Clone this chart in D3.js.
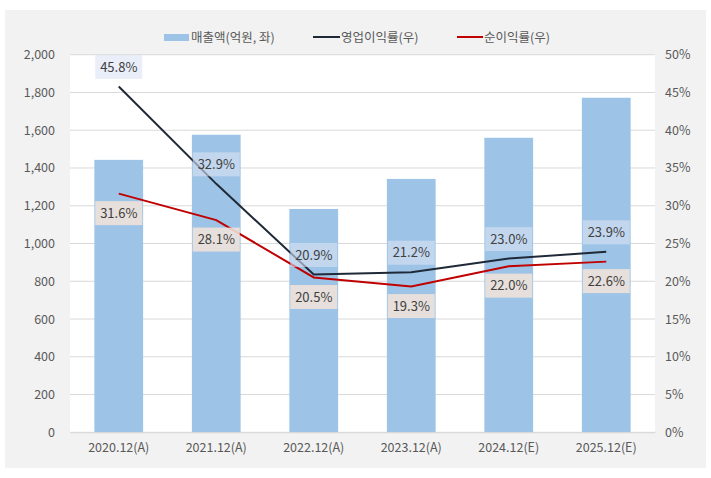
<!DOCTYPE html>
<html>
<head>
<meta charset="utf-8">
<script src="https://cdn.jsdelivr.net/npm/d3@7"></script>
<style>
  html, body { margin: 0; padding: 0; background: #ffffff; }
  svg { display: block; font-family: "Noto Sans CJK KR", "Noto Sans", sans-serif; }
</style>
</head>
<body>
<svg id="chart" width="711" height="478"></svg>
<script>
const categories = ["2020.12(A)", "2021.12(A)", "2022.12(A)", "2023.12(A)", "2024.12(E)", "2025.12(E)"];
const revenue = [1443, 1576, 1183, 1342, 1560, 1772];
const opMargin = [45.8, 32.9, 20.9, 21.2, 23.0, 23.9];
const netMargin = [31.6, 28.1, 20.5, 19.3, 22.0, 22.6];
const leftTicks = [0, 200, 400, 600, 800, 1000, 1200, 1400, 1600, 1800, 2000];
const rightTicks = [0, 5, 10, 15, 20, 25, 30, 35, 40, 45, 50];
const legendLabels = ["매출액(억원, 좌)", "영업이익률(우)", "순이익률(우)"];

const svg = d3.select("#chart");
const W = 711, H = 478;
const plot = { left: 70, right: 655, top: 54.7, bottom: 432.3 };

// outer gray background
svg.append("rect").attr("x", 5).attr("y", 10).attr("width", 701).attr("height", 458).attr("fill", "#f2f2f2");
// plot area
svg.append("rect").attr("x", plot.left).attr("y", plot.top).attr("width", plot.right - plot.left)
  .attr("height", plot.bottom - plot.top).attr("fill", "#ffffff");

const x = d3.scaleBand().domain(categories).range([plot.left, plot.right]).paddingInner(0.5).paddingOuter(0.25);
const yL = d3.scaleLinear().domain([0, 2000]).range([plot.bottom, plot.top]);
const yR = d3.scaleLinear().domain([0, 50]).range([plot.bottom, plot.top]);

// gridlines
svg.append("g").selectAll("line").data(leftTicks).join("line")
  .attr("x1", plot.left).attr("x2", plot.right)
  .attr("y1", d => yL(d)).attr("y2", d => yL(d))
  .attr("stroke", "#d9d9d9").attr("stroke-width", 1);

// left axis
const axL = svg.append("g").attr("transform", `translate(${plot.left - 15},0)`)
  .call(d3.axisLeft(yL).tickValues(leftTicks).tickFormat(d3.format(",")).tickSize(0).tickPadding(0));
axL.select(".domain").remove();
axL.selectAll("text").attr("fill", "#595959").attr("font-size", 12.5).attr("font-family", "Noto Sans CJK KR");

// right axis
const axR = svg.append("g").attr("transform", `translate(${plot.right + 10},0)`)
  .call(d3.axisRight(yR).tickValues(rightTicks).tickFormat(d => d + "%").tickSize(0).tickPadding(0));
axR.select(".domain").remove();
axR.selectAll("text").attr("fill", "#595959").attr("font-size", 12.5).attr("font-family", "Noto Sans CJK KR");

// bars
svg.append("g").selectAll("rect").data(revenue).join("rect")
  .attr("x", (d, i) => x(categories[i]))
  .attr("width", x.bandwidth())
  .attr("y", d => yL(d))
  .attr("height", d => yL(0) - yL(d))
  .attr("fill", "#9dc3e6");

// x axis
const axB = svg.append("g").attr("transform", `translate(0,${plot.bottom})`)
  .call(d3.axisBottom(x).tickSize(0).tickPadding(11));
axB.select(".domain").attr("stroke", "#d9d9d9");
axB.selectAll("text").attr("fill", "#595959").attr("font-size", 12.5).attr("font-family", "Noto Sans CJK KR");

// lines
const cx = (i) => x(categories[i]) + x.bandwidth() / 2;
const line = d3.line().x((d, i) => cx(i)).y(d => yR(d));
svg.append("path").datum(opMargin).attr("d", line).attr("fill", "none")
  .attr("stroke", "#1f2937").attr("stroke-width", 2);
svg.append("path").datum(netMargin).attr("d", line).attr("fill", "none")
  .attr("stroke", "#c00000").attr("stroke-width", 2);

// data labels
function labels(data, dy, fill, op) {
  const g = svg.append("g").selectAll("g").data(data).join("g")
    .attr("transform", (d, i) => `translate(${cx(i)},${yR(d) + dy})`);
  g.append("rect").attr("x", -23.5).attr("y", -12).attr("width", 47).attr("height", 24)
    .attr("fill", fill).attr("fill-opacity", op);
  g.append("text").attr("text-anchor", "middle").attr("dy", "0.36em")
    .attr("font-size", 13).attr("fill", "#404040")
    .text(d => d.toFixed(1) + "%");
}
labels(opMargin, -19.5, "#dae3f3", 0.6);
labels(netMargin, 19.5, "#f0e2da", 0.88);

// legend
const lg = svg.append("g").attr("font-size", 12.5).attr("fill", "#595959");
lg.append("rect").attr("x", 164).attr("y", 34).attr("width", 25).attr("height", 7).attr("fill", "#9dc3e6");
lg.append("text").attr("x", 191).attr("y", 37.5).attr("dy", "0.35em").attr("fill", "#595959").text(legendLabels[0]);
lg.append("line").attr("x1", 313).attr("x2", 340).attr("y1", 37).attr("y2", 37).attr("stroke", "#1f2937").attr("stroke-width", 2);
lg.append("text").attr("x", 341).attr("y", 37.5).attr("dy", "0.35em").attr("fill", "#595959").text(legendLabels[1]);
lg.append("line").attr("x1", 457).attr("x2", 483).attr("y1", 37).attr("y2", 37).attr("stroke", "#c00000").attr("stroke-width", 2);
lg.append("text").attr("x", 484).attr("y", 37.5).attr("dy", "0.35em").attr("fill", "#595959").text(legendLabels[2]);
</script>
</body>
</html>
